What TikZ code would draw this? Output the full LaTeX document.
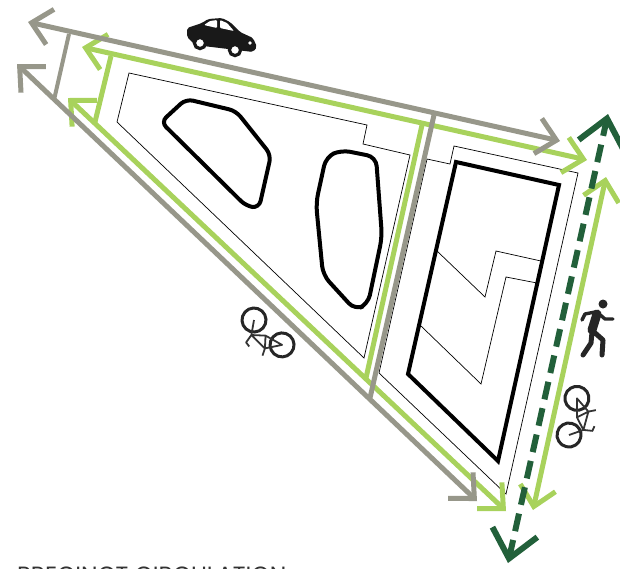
\documentclass[tikz,border=0pt]{standalone}
\usepackage{fontspec}
\setmainfont{Poppins}
\usetikzlibrary{arrows.meta}
\definecolor{roadGray}{HTML}{97978A}
\definecolor{bikeGreen}{HTML}{A8D25C}
\definecolor{walkGreen}{HTML}{22603A}
\tikzset{
  biketip/.tip={Straight Barb[length=19pt,width=36pt]},
  walktip/.tip={Straight Barb[length=27pt,width=46pt]},
  bikeicon/.pic={
    \draw[line width=3pt,black!85] (0,0) circle (12pt) (37.5,0) circle (12pt);
    \draw[line width=1.8pt,black!80,line join=round] (0,0) -- (8,13) -- (19,4) -- (37.5,0) -- (27,14) -- (8,13) (19,4) -- (27,14) -- (30,21)
      (8,13) -- (9,22) -- (14,23);
  }
}
\begin{document}
\begin{tikzpicture}[x=1pt,y=-1pt,
  road/.style={roadGray,line width=5pt},
  roadarrow/.style={road,{biketip}-{biketip}},
  cycle/.style={bikeGreen,line width=5pt},
  cyclearrow/.style={cycle,{biketip}-{biketip}},
  walk/.style={walkGreen,line width=6pt,dash pattern=on 18pt off 9pt,dash phase=2pt,{walktip}-{walktip}},
  lot/.style={black,line width=0.7pt,line join=miter},
  mass/.style={black,line width=4pt,rounded corners=7pt}]
\useasboundingbox (0,0) rectangle (620,568);
\clip (0,0) rectangle (620,568);
% road ends
\coordinate (carW) at (28,22);
\coordinate (carE) at (560,141);
\coordinate (bikeW) at (17,64);
\coordinate (bikeS) at (477,501);
\coordinate (linkA) at (69,34);
\coordinate (linkB) at (54,100);
\coordinate (midN) at (434,115);
\coordinate (midS) at (370,398);
% cycle path ends
\coordinate (cycN) at (82,47);
\coordinate (cycE) at (587,160);
\coordinate (cycW) at (68,98);
\coordinate (cycS) at (506,511);
\coordinate (cycA) at (111,56);
\coordinate (cycB) at (95,122);
\coordinate (cycC) at (422,125);
\coordinate (cycD) at (366,378);
\coordinate (eastN) at (606,177);
\coordinate (eastS) at (533,510);
% footpath ends
\coordinate (walkN) at (608,114);
\coordinate (walkS) at (508,563);
% lots
\draw[lot] (129,73) -- (367,125) -- (363,144) -- (410,155) -- (364,358) -- (117,122) -- cycle;
\draw[lot] (427,159) -- (450,164) -- (454,146) -- (578,173) -- (506,494) -- (379,373) -- cycle;
\draw[lot] (437,251) -- (485,297) -- (496,251) -- (541,261);
\draw[lot] (421,326) -- (481,384) -- (506,277) -- (537,283);
% masses
\draw[black,line width=4pt,line join=miter] (456,162) -- (559,185) -- (498,461) -- (408,374) -- cycle;
\draw[mass] (186,99) -- (236,111) -- (271,155) -- (259,208) -- (246,206) -- (161,122) -- cycle;
\draw[mass,rounded corners=9pt] (341,150) -- (376,157) -- (382,237) -- (368,304) -- (355,310) -- (323,275) -- (316,203) -- (326,157) -- cycle;
% circulation
\draw[cycle] (cycA) -- (cycB);
\draw[cycle] (cycC) -- (cycD);
\draw[cyclearrow] (cycN) -- (cycE);
\draw[cyclearrow] (cycW) -- (cycS);
\draw[road,line width=4pt] (linkA) -- (linkB);
\draw[road] (midN) -- (midS);
\draw[roadarrow] (carW) -- (carE);
\draw[roadarrow] (bikeW) -- (bikeS);
\draw[cyclearrow] (eastN) -- (eastS);
\draw[walk] (walkS) -- (walkN);
% car
\fill[black!90,rounded corners=2pt] (187,28) -- (202,23) -- (208,19) -- (222,18) -- (230,22) -- (240,32) -- (253,38) -- (257,47) -- (253,52) -- (195,45) -- (187,37) -- cycle;
\fill[white,rounded corners=1pt] (204,25) -- (210,21) -- (217,20) -- (217,28) -- cycle (220,20) -- (227,23) -- (234,31) -- (220,28) -- cycle;
\fill[white] (250,43) circle (1.8pt);
\foreach \cx/\cy in {200/43,235/50}
  \draw[black!90,line width=3.2pt,fill=white] (\cx,\cy) circle (5.6pt);
% pedestrian
\fill[black!85] (603,304) circle (4.5pt);
\draw[black!85,line width=9pt,line cap=round] (597,314) -- (592,330);
\draw[black!85,line width=3.4pt,line cap=round,line join=round] (595,312) -- (585,314) -- (582,320)
  (598,313) -- (605,319) -- (613,319);
\draw[black!85,line width=5pt,line cap=round,line join=round] (592,332) -- (591,343) -- (583,355)
  (594,332) -- (603,340) -- (602,355);
% bicycles
\pic[rotate=-41.6] at (254,320) {bikeicon};
\pic[rotate=77.8] at (569,435) {bikeicon};
\node[anchor=north west,inner sep=0pt,font=\fontsize{23.5}{24}\selectfont,text=black!80] (title) at (17,566.5) {PRECINCT CIRCULATION};
\end{tikzpicture}
\end{document}
